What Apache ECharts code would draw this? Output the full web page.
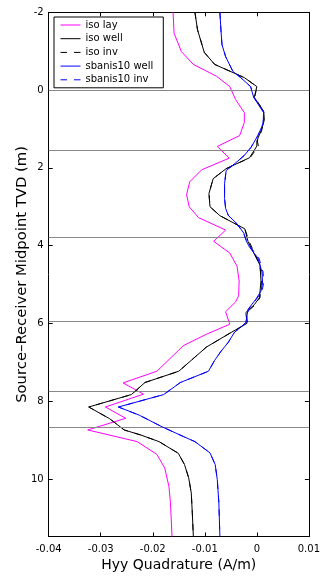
<!DOCTYPE html>
<html>
<head>
<meta charset="utf-8">
<script src="https://cdn.jsdelivr.net/npm/echarts@6/dist/echarts.min.js"></script>
<style>
html,body{margin:0;padding:0;background:#fff;}
#chart{width:323px;height:577px;}
</style>
</head>
<body>
<div id="chart"></div>
<script>
// ---- data ----
var seriesNames = ['iso lay', 'iso well', 'iso inv', 'sbanis10 well', 'sbanis10 inv'];
var xTickValues = [-0.04, -0.03, -0.02, -0.01, 0, 0.01];
var yTickValues = [-2, 0, 2, 4, 6, 8, 10];
var layerDepths = [0, 1.54, 3.79, 5.94, 7.755, 8.67];

var isoLayDepth = [-2.0,-1.46,-0.99,-0.66,-0.36,-0.09,0.24,0.58,0.83,1.17,1.45,1.75,2.05,2.36,2.69,3.0,3.28,3.6,3.89,4.19,4.53,4.91,5.29,5.45,5.70,6.02,6.28,6.57,7.23,7.53,7.82,8.15,8.44,8.74,9.04,9.37,9.72,10.19,10.61,11.48];
var isoLayH = [-0.0161,-0.0159,-0.0145,-0.0122,-0.0078,-0.0052,-0.0041,-0.0024,-0.0024,-0.0033,-0.0076,-0.0053,-0.0106,-0.0129,-0.0135,-0.0130,-0.0112,-0.0060,-0.0083,-0.0052,-0.0038,-0.0034,-0.0035,-0.0041,-0.0060,-0.0052,-0.0097,-0.0141,-0.0192,-0.0257,-0.0218,-0.0291,-0.0252,-0.0325,-0.0230,-0.0192,-0.0177,-0.0169,-0.0166,-0.0163];

var isoWellDepth = [-2.0,-1.55,-0.97,-0.66,-0.32,-0.09,0.19,0.54,0.79,1.05,1.31,1.44,1.74,2.02,2.28,2.66,3.0,3.23,3.57,3.89,4.06,4.50,4.91,5.34,5.52,5.72,6.0,6.23,6.61,7.23,7.52,7.83,8.15,8.45,8.74,8.87,9.04,9.34,9.63,9.97,10.36,10.87,11.48];
var isoWellH = [-0.0119,-0.0114,-0.0101,-0.0081,-0.0024,0.0000,-0.0005,0.0013,0.0014,0.0008,0.0000,0.0000,-0.0014,-0.0059,-0.0084,-0.0092,-0.0090,-0.0071,-0.0023,-0.0017,-0.0011,0.0006,0.0008,0.0005,-0.0005,-0.0021,-0.0019,-0.0049,-0.0097,-0.0150,-0.0215,-0.0241,-0.0323,-0.0283,-0.0255,-0.0223,-0.0188,-0.0151,-0.0139,-0.0131,-0.0126,-0.0124,-0.0122];

var isoInvDepth = [-2.0,-1.55,-0.97,-0.66,-0.32,-0.09,0.19,0.54,0.79,1.05,1.31,1.44,1.74,2.02,2.28,2.66,3.0,3.23,3.57,3.89,4.06,4.50,4.91,5.34,5.52,5.72,6.0,6.23,6.61,7.23,7.52,7.83,8.15,8.45,8.74,8.87,9.04,9.34,9.63,9.97,10.36,10.87,11.48];
var isoInvH = [-0.0119,-0.0114,-0.0101,-0.0081,-0.0024,0.0000,-0.0004,0.0013,0.0014,0.0009,0.0001,0.0003,-0.0013,-0.0059,-0.0084,-0.0092,-0.0090,-0.0071,-0.0023,-0.0015,-0.0009,0.0006,0.0009,0.0006,-0.0003,-0.0020,-0.0018,-0.0049,-0.0097,-0.0150,-0.0215,-0.0241,-0.0323,-0.0283,-0.0255,-0.0223,-0.0188,-0.0151,-0.0139,-0.0131,-0.0126,-0.0124,-0.0122];

var sbWellDepth = [-2.0,-1.55,-1.17,-0.86,-0.48,-0.32,-0.09,0.19,0.58,0.87,1.17,1.47,1.68,1.90,2.07,2.41,2.79,3.04,3.22,3.44,3.68,3.86,4.04,4.32,4.68,4.96,5.17,5.38,5.64,5.98,6.23,6.49,6.72,6.95,7.23,7.52,7.83,8.15,8.36,8.66,8.91,9.04,9.33,9.63,10.02,10.61,11.48];
var sbWellH = [-0.0071,-0.0069,-0.0067,-0.0060,-0.0046,-0.0031,-0.0012,-0.0006,0.0013,0.0012,0.0002,-0.0011,-0.0024,-0.0043,-0.0059,-0.0062,-0.0062,-0.0060,-0.0055,-0.0038,-0.0025,-0.0021,-0.0014,0.0002,0.0010,0.0011,0.0008,-0.0002,-0.0017,-0.0021,-0.0043,-0.0055,-0.0069,-0.0081,-0.0093,-0.0147,-0.0179,-0.0266,-0.0226,-0.0182,-0.0141,-0.0119,-0.0090,-0.0080,-0.0076,-0.0073,-0.0071];

var sbInvDepth = [-2.0,-1.55,-1.17,-0.86,-0.48,-0.32,-0.09,0.19,0.58,0.87,1.17,1.47,1.68,1.90,2.07,2.41,2.79,3.04,3.22,3.44,3.68,3.86,4.04,4.32,4.68,4.96,5.17,5.38,5.64,5.98,6.23,6.49,6.72,6.95,7.23,7.52,7.83,8.15,8.36,8.66,8.91,9.04,9.33,9.63,10.02,10.61,11.48];
var sbInvH = [-0.0071,-0.0069,-0.0067,-0.0060,-0.0046,-0.0031,-0.0012,-0.0005,0.0014,0.0012,0.0002,-0.0011,-0.0024,-0.0043,-0.0059,-0.0062,-0.0062,-0.0060,-0.0055,-0.0038,-0.0026,-0.0020,-0.0012,0.0004,0.0012,0.0013,0.0010,-0.0001,-0.0016,-0.0021,-0.0043,-0.0055,-0.0069,-0.0081,-0.0093,-0.0147,-0.0179,-0.0266,-0.0226,-0.0182,-0.0141,-0.0119,-0.0090,-0.0080,-0.0076,-0.0073,-0.0071];

function zip(xs, ys) { return xs.map(function (x, i) { return [x, ys[i]]; }); }

var FONT = '"DejaVu Sans", sans-serif';
var chart = echarts.init(document.getElementById('chart'), null, {renderer: 'canvas'});

function lineSeries(name, xs, ys, color, dashed, z) {
  return {
    name: name, type: 'line', data: zip(xs, ys),
    xAxisIndex: 0, yAxisIndex: 0,
    symbol: 'none', showSymbol: false, smooth: false, animation: false,
    lineStyle: {color: color, width: 1, type: dashed ? [6.5, 7] : 'solid'},
    itemStyle: {color: color},
    z: z
  };
}

var option = {
  animation: false,
  backgroundColor: '#fff',
  grid: {left: 48.7, right: 11.3, top: 12.3, bottom: 36.3, containLabel: false},
  legend: {
    data: seriesNames,
    orient: 'vertical',
    left: 54, top: 17,
    padding: [2.5, 10, 2.5, 6],
    itemWidth: 20, itemHeight: 10, itemGap: 2.7,
    backgroundColor: '#fff',
    borderColor: '#000', borderWidth: 1,
    itemStyle: {opacity: 0, borderWidth: 0},
    lineStyle: {width: 1},
    textStyle: {fontFamily: FONT, fontSize: 10, color: '#000', lineHeight: 11},
    z: 20
  },
  xAxis: [{
    type: 'value', position: 'bottom',
    min: -0.04, max: 0.01, interval: 0.01,
    name: 'Hyy Quadrature (A/m)', nameLocation: 'middle', nameGap: 21.5,
    nameMoveOverlap: false,
    nameTextStyle: {fontFamily: FONT, fontSize: 14, color: '#000'},
    axisLine: {show: true, onZero: false, lineStyle: {color: '#000', width: 1}},
    axisTick: {show: true, inside: true, length: 4, lineStyle: {color: '#000'}},
    axisLabel: {fontFamily: FONT, fontSize: 10, color: '#000', margin: 8,
      formatter: function (v) { var r = Math.round(v * 100) / 100; return xTickValues.indexOf(r) >= 0 ? String(r) : ''; }},
    splitLine: {show: false}
  }, {
    type: 'value', position: 'top',
    min: -0.04, max: 0.01, interval: 0.01,
    axisLine: {show: true, onZero: false, lineStyle: {color: '#000', width: 1}},
    axisTick: {show: true, inside: true, length: 4, lineStyle: {color: '#000'}},
    axisLabel: {show: false},
    splitLine: {show: false}
  }],
  yAxis: [{
    type: 'value', position: 'left', inverse: true,
    min: -2, max: 11.48, interval: 2,
    name: 'Source\u2013Receiver Midpoint TVD (m)', nameLocation: 'middle', nameGap: 19,
    nameMoveOverlap: false,
    nameTextStyle: {fontFamily: FONT, fontSize: 14.8, color: '#000'},
    axisLine: {show: true, onZero: false, lineStyle: {color: '#000', width: 1}},
    axisTick: {show: true, inside: true, length: 4, lineStyle: {color: '#000'}},
    axisLabel: {fontFamily: FONT, fontSize: 10, color: '#000', margin: 5, showMaxLabel: false,
      formatter: function (v) { return yTickValues.indexOf(v) >= 0 ? String(v) : ''; }},
    splitLine: {show: false}
  }, {
    type: 'value', position: 'right', inverse: true,
    min: -2, max: 11.48, interval: 2,
    axisLine: {show: true, onZero: false, lineStyle: {color: '#000', width: 1}},
    axisTick: {show: true, inside: true, length: 4, lineStyle: {color: '#000'}},
    axisLabel: {show: false},
    splitLine: {show: false}
  }],
  series: [
    {
      name: 'layers', type: 'line', data: [], xAxisIndex: 0, yAxisIndex: 0, z: 1,
      markLine: {
        silent: true, symbol: ['none', 'none'], animation: false,
        label: {show: false},
        lineStyle: {color: '#888', width: 1, type: 'solid'},
        data: layerDepths.map(function (d) { return {yAxis: d}; })
      }
    },
    lineSeries(seriesNames[0], isoLayH, isoLayDepth, '#ff00ff', false, 3),
    lineSeries(seriesNames[1], isoWellH, isoWellDepth, '#000000', false, 4),
    lineSeries(seriesNames[2], isoInvH, isoInvDepth, '#000000', true, 5),
    lineSeries(seriesNames[3], sbWellH, sbWellDepth, '#0000ff', false, 6),
    lineSeries(seriesNames[4], sbInvH, sbInvDepth, '#0000ff', true, 7)
  ]
};
chart.setOption(option);
</script>
</body>
</html>
